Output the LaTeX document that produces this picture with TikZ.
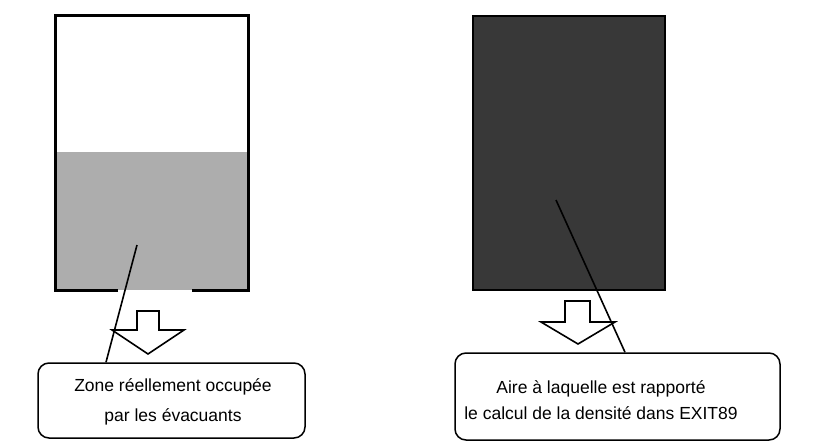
\documentclass[tikz,border=0pt]{standalone}
\usepackage{fontspec}
\setmainfont{Liberation Sans}
\begin{document}
\begin{tikzpicture}[x=1pt,y=-1pt,
  wall/.style={line width=3pt, line join=miter},
  blockarrow/.style={draw=black, fill=white, line width=1.6pt, line join=miter},
  callout/.style={draw=black, line width=1.5pt, rounded corners=11pt, inner sep=0pt},
  label/.style={align=center, font=\fontsize{17.5}{30}\selectfont, inner sep=0pt},
  pointer/.style={line width=1.6pt}]
\useasboundingbox (0,0) rectangle (816,444);
% left room
\fill[black!32] (55,152) rectangle (248,290);
\draw[wall] (118,290) -- (55,290) -- (55,16) -- (248,16) -- (248,290) -- (192,290);
% right room
\fill[black!78] (473,16) rectangle (665,290);
\draw[line width=2pt] (473,16) rectangle (665,290);
% block arrows
\draw[blockarrow] (137,311) -- (159,311) -- (159,330) -- (184,330) -- (148,354) -- (112,330) -- (137,330) -- cycle;
\draw[blockarrow] (565,301) -- (590,301) -- (590,322) -- (615,322) -- (578,344) -- (541,322) -- (565,322) -- cycle;
% callouts
\node[callout, minimum width=267pt, minimum height=75pt] (calloutL) at (171.5,400.5) {};
\node[callout, minimum width=325pt, minimum height=87pt] (calloutR) at (617.5,396.5) {};
\node[label] (textL) at (173,402) {Zone réellement occupée\\par les évacuants};
\node[label, font=\fontsize{17.5}{26}\selectfont] (textR) at (601,400) {Aire à laquelle est rapporté\\le calcul de la densité dans EXIT89};
% pointers
\coordinate (pL) at (137,245);
\coordinate (pR) at (556,200);
\draw[pointer] (pL) -- (calloutL.north -| 106,0);
\draw[pointer] (pR) -- (calloutR.north -| 625,0);
\end{tikzpicture}
\end{document}
